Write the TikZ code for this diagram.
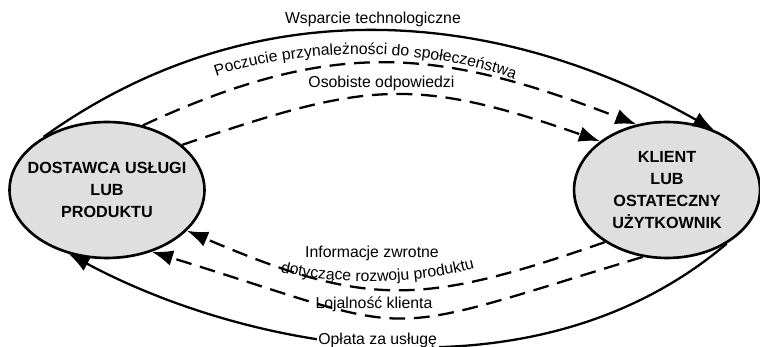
\documentclass[tikz,border=0pt]{standalone}
\usepackage{fontspec}
\setmainfont{Liberation Sans}
\usetikzlibrary{positioning,shapes.geometric,arrows.meta,decorations.text}

\begin{document}
\begin{tikzpicture}[x=0.02cm, y=-0.02cm,
        partynode/.style={ellipse, draw=black, fill=gray!25, line width=1.5pt, inner xsep=-10pt, inner ysep=0pt, minimum width=3.9cm, minimum height=2.72cm, align=center, font=\fontsize{9.2}{12.5}\selectfont\bfseries},
        solidflow/.style={-{Latex[length=12pt,width=9pt]}, line width=1.3pt},
        dashedflow/.style={solidflow, dash pattern=on 9pt off 5pt},
        flowlabel/.style={font=\fontsize{9}{10.5}\selectfont, align=center, inner sep=2pt},
        curvedlabel/.style={decorate, decoration={text along path, text align=center, text={|\fontsize{9}{10.5}\selectfont|#1}}},
]
        \useasboundingbox (0,0) rectangle (760,347);

        \node[partynode] (dostawca) at (107,190) {DOSTAWCA USŁUGI\\LUB\\PRODUKTU};
        \node[partynode, minimum width=3.72cm] (klient) [right=7.34cm of dostawca] {KLIENT\\LUB\\OSTATECZNY\\UŻYTKOWNIK};

        % od dostawcy do klienta
        \draw[solidflow] (dostawca.140) .. controls (250,-11) and (492,5) .. (klient.52)
            node[flowlabel, pos=.5, above] {Wsparcie technologiczne};
        \draw[dashedflow] (dostawca.61) .. controls (332,38) and (437,47) .. (klient.115);
        \draw[dashedflow] (dostawca.31) .. controls (364,83) and (411,75) .. (klient.144)
            node[flowlabel, pos=.48, above] {Osobiste odpowiedzi};
        \path[curvedlabel={Poczucie przynależności do społeczeństwa}] (195,84) .. controls (290,44) and (440,44) .. (535,88);

        % od klienta do dostawcy
        \draw[dashedflow] (klient.220) .. controls (421,306) and (368,308) .. (dostawca.-27);
        \draw[dashedflow] (klient.-110) .. controls (365,341) and (428,337) .. (dostawca.-54)
            node[flowlabel, pos=.57, above] {Lojalność klienta};
        \draw[solidflow] (klient.-42) .. controls (534,407) and (246,349) .. (dostawca.-121)
            node[flowlabel, pos=.52, anchor=base, fill=white, inner sep=1pt] {Opłata za usługę};
        \node[flowlabel] (informacje) at (372,253) {Informacje zwrotne};
        \path[curvedlabel={dotyczące rozwoju produktu}] (268,269) .. controls (330,286) and (420,286) .. (487,265);
\end{tikzpicture}
\end{document}
